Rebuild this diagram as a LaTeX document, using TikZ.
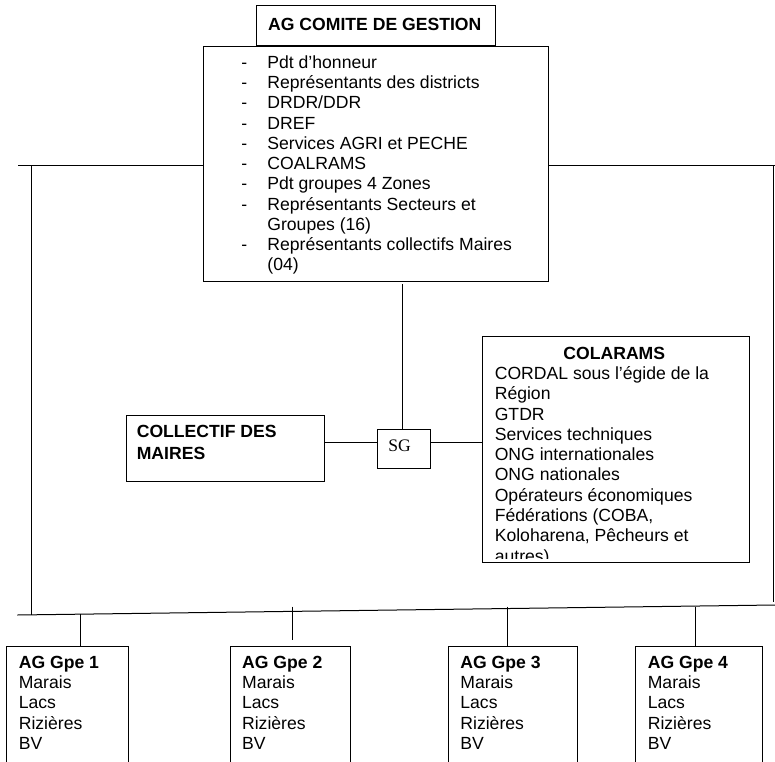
\documentclass[tikz,border=0pt]{standalone}
\usepackage{fontspec}
\setmainfont{Liberation Sans}
\newfontfamily\policeSG{Liberation Serif}
\usetikzlibrary{fit}

\tikzset{
	cadre/.style={draw, inner sep=0pt, outer sep=0pt},
	texte/.style={inner sep=0pt, anchor=base west, font=\fontsize{13.2pt}{15.2pt}\selectfont},
	titre/.style={texte, font=\fontsize{13.2pt}{15.2pt}\selectfont\bfseries},
}

\begin{document}
\begin{tikzpicture}[x=0.75pt, y=-0.75pt, line width=0.75pt]
		\path[use as bounding box, clip] (0,0) rectangle (775,761);

		% AG comite de gestion
		\node[cadre, fit={(256.8,5.7) (495.3,45.3)}] (entete) {};
		\node[cadre, fit={(203.9,46) (548.7,281)}] (comite) {};
		\node[titre] (entetetxt) at (267.7,30) {AG COMITE DE GESTION};
		\node[texte] (liste) at (240.9,68.3) {\begin{tabular}[t]{@{}p{19.5pt}@{}l@{}}
			- & Pdt d’honneur\\
			- & Représentants des districts\\
			- & DRDR/DDR\\
			- & DREF\\
			- & Services AGRI et PECHE\\
			- & COALRAMS\\
			- & Pdt groupes 4 Zones\\
			- & Représentants Secteurs et\\
			  & Groupes (16)\\
			- & Représentants collectifs Maires\\
			  & (04)
		\end{tabular}};

		% Secretariat
		\node[cadre, fit={(377.3,429.3) (430.7,468.3)}] (sg) {};
		\node[texte, font=\policeSG\fontsize{13.2pt}{15.2pt}\selectfont] (sgtxt) at (387.8,451.7) {SG};

		% Collectif des maires
		\node[cadre, fit={(126,415) (324,481.7)}] (collectif) {};
		\node[titre, font=\fontsize{13.2pt}{16pt}\selectfont\bfseries] (collectiftxt) at (136.3,437.7)
			{\begin{tabular}[t]{@{}l@{}}COLLECTIF DES\\MAIRES\end{tabular}};

		% Colarams
		\node[cadre, fit={(482.8,336) (749.6,562.7)}] (colarams) {};
		\node[titre, anchor=base] (colaramstxt) at (614.3,359.6) {COLARAMS};
		\begin{scope}
			\clip (482.8,336) rectangle (749.6,558);
			\node[texte] (colaramsliste) at (494.3,379.6) {\begin{tabular}[t]{@{}l@{}}
				CORDAL sous l’égide de la\\
				Région\\
				GTDR\\
				Services techniques\\
				ONG internationales\\
				ONG nationales\\
				Opérateurs économiques\\
				Fédérations (COBA,\\
				Koloharena, Pêcheurs et\\
				autres)
			\end{tabular}};
		\end{scope}

		% AG des groupes
		\foreach \g/\xa/\xb in {1/6.7/128.3, 2/230/350.7, 3/448.3/577.7, 4/635.7/762.3} {
			\node[cadre, fit={(\xa,646) (\xb,790)}] (g\g) {};
			\node[texte] (gtxt\g) at ([shift={(11.6,22.3)}]g\g.north west)
				{\begin{tabular}[t]{@{}l@{}}\textbf{AG Gpe \g}\\Marais\\Lacs\\Rizières\\BV\end{tabular}};
		}

		% Liaisons
		\coordinate (barreg) at (18.3,165);
		\coordinate (barred) at (774.5,165);
		\draw (barreg) -- (comite.west |- barreg);
		\draw (comite.east |- barred) -- (barred);

		\coordinate (montg) at (31.7,165);
		\coordinate (busg) at (17.3,615);
		\coordinate (busd) at (775,605);
		\draw (montg) -- (montg |- busg);
		\draw (busg) -- (busd);
		\coordinate (montd) at (773.3,165);
		\coordinate (basd) at (773.3,601.7);
		\draw (montd) -- (basd);

		\coordinate (pied) at (402.3,284);
		\draw (pied) -- (pied |- sg.north);
		\coordinate (lien) at (0,442.3);
		\draw (collectif.east |- lien) -- (sg.west |- lien);
		\draw (sg.east |- lien) -- (colarams.west |- lien);

		\foreach \g/\xd/\yd/\ecart in {1/80/614/0, 2/292/606.7/4.5, 3/507.7/606.7/0, 4/695/606.7/0}
			\draw (\xd,\yd) coordinate (d\g) -- ([yshift=\ecart pt]d\g |- g\g.north);
	\end{tikzpicture}
\end{document}
